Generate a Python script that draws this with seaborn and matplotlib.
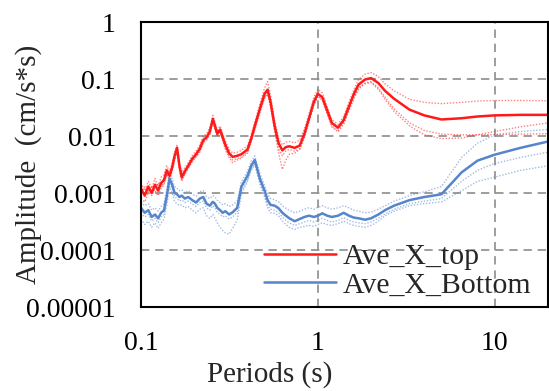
import numpy as np
import pandas as pd
import matplotlib
matplotlib.use("Agg")
import matplotlib.pyplot as plt
from matplotlib.ticker import LogLocator, NullFormatter, FixedLocator, FixedFormatter
import seaborn as sns

# Response spectra: period grid (s)
periods = [0.100, 0.105, 0.110, 0.115, 0.120, 0.125, 0.130, 0.135, 0.140, 0.145,
           0.150, 0.155, 0.160, 0.165, 0.170, 0.177, 0.185, 0.195, 0.205, 0.215,
           0.225, 0.235, 0.245, 0.255, 0.262, 0.270, 0.280, 0.290, 0.300, 0.315,
           0.330, 0.350, 0.370, 0.400, 0.420, 0.440, 0.470, 0.500, 0.520, 0.540,
           0.570, 0.600, 0.630, 0.660, 0.690, 0.740, 0.790, 0.840, 0.890, 0.950,
           1.000, 1.060, 1.130, 1.200, 1.300, 1.400, 1.500, 1.600, 1.700, 1.850,
           2.000, 2.200, 2.400, 2.700, 3.300, 4.000, 5.000, 6.500, 8.000, 10.00,
           14.00, 20.00]

# Top sensor: average and individual records
top_ave = [0.0012, 0.0009, 0.0013, 0.0010, 0.0014, 0.0011, 0.0015, 0.0017, 0.0025, 0.0020,
           0.0028, 0.0045, 0.0062, 0.0030, 0.0019, 0.0024, 0.0030, 0.0040, 0.0048, 0.0060,
           0.0085, 0.0095, 0.0120, 0.0200, 0.0150, 0.0110, 0.0130, 0.0095, 0.0070, 0.0050,
           0.0043, 0.0045, 0.0048, 0.0058, 0.0090, 0.0150, 0.0300, 0.0550, 0.0650, 0.0400,
           0.0150, 0.0075, 0.0056, 0.0064, 0.0066, 0.0062, 0.0068, 0.0110, 0.0200, 0.0400,
           0.0550, 0.0480, 0.0280, 0.0170, 0.0140, 0.0190, 0.0330, 0.0550, 0.0800, 0.0980,
           0.1040, 0.0850, 0.0620, 0.0450, 0.0290, 0.0230, 0.0195, 0.0205, 0.0220, 0.0230,
           0.0235, 0.0235]
top_rec1 = [0.0015, 0.0011, 0.0016, 0.0012, 0.0018, 0.0013, 0.0019, 0.0021, 0.0030, 0.0024,
            0.0033, 0.0052, 0.0070, 0.0035, 0.0023, 0.0028, 0.0034, 0.0046, 0.0055, 0.0070,
            0.0098, 0.0110, 0.0140, 0.0230, 0.0175, 0.0128, 0.0150, 0.0110, 0.0082, 0.0058,
            0.0050, 0.0052, 0.0056, 0.0068, 0.0105, 0.0175, 0.0360, 0.0700, 0.0900, 0.0520,
            0.0185, 0.0090, 0.0070, 0.0078, 0.0080, 0.0076, 0.0085, 0.0135, 0.0240, 0.0480,
            0.0660, 0.0570, 0.0330, 0.0195, 0.0160, 0.0220, 0.0390, 0.0650, 0.0980, 0.1220,
            0.1300, 0.1100, 0.0820, 0.0620, 0.0440, 0.0390, 0.0370, 0.0390, 0.0410, 0.0420,
            0.0420, 0.0415]
top_rec2 = [0.0010, 0.0013, 0.0011, 0.0009, 0.0012, 0.0015, 0.0013, 0.0015, 0.0021, 0.0018,
            0.0024, 0.0040, 0.0056, 0.0027, 0.0017, 0.0021, 0.0027, 0.0036, 0.0043, 0.0054,
            0.0076, 0.0085, 0.0105, 0.0180, 0.0135, 0.0098, 0.0115, 0.0085, 0.0062, 0.0044,
            0.0038, 0.0040, 0.0043, 0.0052, 0.0080, 0.0135, 0.0265, 0.0480, 0.0560, 0.0350,
            0.0130, 0.0060, 0.0045, 0.0055, 0.0058, 0.0054, 0.0060, 0.0098, 0.0180, 0.0360,
            0.0500, 0.0440, 0.0250, 0.0150, 0.0125, 0.0170, 0.0290, 0.0480, 0.0700, 0.0850,
            0.0900, 0.0700, 0.0480, 0.0300, 0.0170, 0.0125, 0.0108, 0.0105, 0.0105, 0.0106,
            0.0108, 0.0110]
top_rec3 = [0.0008, 0.0007, 0.0010, 0.0013, 0.0011, 0.0009, 0.0012, 0.0014, 0.0022, 0.0016,
            0.0025, 0.0038, 0.0055, 0.0026, 0.0016, 0.0022, 0.0028, 0.0035, 0.0044, 0.0052,
            0.0078, 0.0088, 0.0110, 0.0175, 0.0130, 0.0100, 0.0118, 0.0082, 0.0058, 0.0042,
            0.0034, 0.0038, 0.0041, 0.0050, 0.0078, 0.0128, 0.0255, 0.0460, 0.0540, 0.0330,
            0.0120, 0.0050, 0.0026, 0.0038, 0.0048, 0.0050, 0.0058, 0.0095, 0.0175, 0.0350,
            0.0480, 0.0420, 0.0240, 0.0145, 0.0118, 0.0160, 0.0280, 0.0460, 0.0670, 0.0820,
            0.0870, 0.0660, 0.0440, 0.0270, 0.0150, 0.0105, 0.0090, 0.0092, 0.0105, 0.0120,
            0.0145, 0.0170]

# Bottom sensor: average and individual records
bot_ave = [0.00055, 0.00045, 0.00050, 0.00038, 0.00042, 0.00036, 0.00045, 0.00050, 0.00090, 0.00180,
           0.00140, 0.00100, 0.00095, 0.00085, 0.00090, 0.00080, 0.00085, 0.00075, 0.00068, 0.00080,
           0.00085, 0.00065, 0.00060, 0.00070, 0.00065, 0.00055, 0.00050, 0.00045, 0.00048, 0.00042,
           0.00046, 0.00055, 0.00130, 0.00200, 0.00300, 0.00380, 0.00180, 0.00110, 0.00075, 0.00062,
           0.00060, 0.00054, 0.00045, 0.00040, 0.00036, 0.00032, 0.00035, 0.00038, 0.00040, 0.00038,
           0.00040, 0.00044, 0.00040, 0.00038, 0.00040, 0.00045, 0.00040, 0.00037, 0.00036, 0.00034,
           0.00036, 0.00042, 0.00050, 0.00060, 0.00075, 0.00085, 0.00095, 0.00230, 0.00370, 0.00470,
           0.00620, 0.00800]
bot_rec1 = [0.00070, 0.00060, 0.00065, 0.00050, 0.00055, 0.00048, 0.00058, 0.00065, 0.00120, 0.00220,
            0.00175, 0.00130, 0.00120, 0.00110, 0.00115, 0.00100, 0.00110, 0.00095, 0.00088, 0.00105,
            0.00110, 0.00085, 0.00080, 0.00090, 0.00085, 0.00075, 0.00068, 0.00062, 0.00065, 0.00058,
            0.00062, 0.00072, 0.00160, 0.00240, 0.00360, 0.00450, 0.00220, 0.00135, 0.00095, 0.00080,
            0.00076, 0.00070, 0.00060, 0.00054, 0.00050, 0.00045, 0.00048, 0.00052, 0.00055, 0.00052,
            0.00056, 0.00060, 0.00055, 0.00052, 0.00055, 0.00060, 0.00055, 0.00050, 0.00048, 0.00045,
            0.00046, 0.00052, 0.00060, 0.00072, 0.00090, 0.00105, 0.00130, 0.00420, 0.00750, 0.01050,
            0.01200, 0.01300]
bot_rec2 = [0.00045, 0.00038, 0.00042, 0.00032, 0.00036, 0.00030, 0.00038, 0.00042, 0.00075, 0.00150,
            0.00120, 0.00085, 0.00080, 0.00072, 0.00076, 0.00068, 0.00072, 0.00064, 0.00058, 0.00068,
            0.00072, 0.00055, 0.00050, 0.00060, 0.00055, 0.00046, 0.00042, 0.00038, 0.00040, 0.00035,
            0.00038, 0.00046, 0.00110, 0.00170, 0.00260, 0.00330, 0.00155, 0.00092, 0.00062, 0.00052,
            0.00050, 0.00045, 0.00038, 0.00033, 0.00030, 0.00027, 0.00029, 0.00031, 0.00033, 0.00031,
            0.00033, 0.00036, 0.00033, 0.00031, 0.00033, 0.00037, 0.00033, 0.00031, 0.00030, 0.00029,
            0.00031, 0.00036, 0.00043, 0.00052, 0.00065, 0.00072, 0.00080, 0.00160, 0.00250, 0.00330,
            0.00420, 0.00520]
bot_rec3 = [0.00035, 0.00028, 0.00032, 0.00025, 0.00030, 0.00024, 0.00030, 0.00035, 0.00060, 0.00130,
            0.00100, 0.00070, 0.00065, 0.00060, 0.00062, 0.00055, 0.00058, 0.00050, 0.00045, 0.00052,
            0.00055, 0.00040, 0.00036, 0.00042, 0.00036, 0.00030, 0.00025, 0.00022, 0.00020, 0.00019,
            0.00024, 0.00034, 0.00095, 0.00160, 0.00250, 0.00320, 0.00145, 0.00085, 0.00055, 0.00045,
            0.00044, 0.00040, 0.00032, 0.00028, 0.00025, 0.00023, 0.00025, 0.00026, 0.00027, 0.00026,
            0.00028, 0.00030, 0.00028, 0.00027, 0.00029, 0.00032, 0.00029, 0.00027, 0.00026, 0.00025,
            0.00027, 0.00032, 0.00040, 0.00048, 0.00060, 0.00065, 0.00070, 0.00110, 0.00160, 0.00190,
            0.00250, 0.00300]

series_names = ["Ave_X_top", "Ave_X_Bottom"]
series_colors = ["#FF1A1A", "#5585CC"]

x_ticks = [0.1, 1, 10]
x_tick_labels = ["0.1", "1", "10"]
y_ticks = [1e-5, 1e-4, 1e-3, 1e-2, 1e-1, 1]
y_tick_labels = ["0.00001", "0.0001", "0.001", "0.01", "0.1", "1"]

# Long-format tables for seaborn
ave = pd.DataFrame({
    "Period": periods * 2,
    "Amplitude": top_ave + bot_ave,
    "Series": [series_names[0]] * len(periods) + [series_names[1]] * len(periods),
})
recs = pd.DataFrame({
    "Period": periods * 6,
    "Amplitude": top_rec1 + top_rec2 + top_rec3 + bot_rec1 + bot_rec2 + bot_rec3,
    "Record": (["t1"] * len(periods) + ["t2"] * len(periods) + ["t3"] * len(periods)
               + ["b1"] * len(periods) + ["b2"] * len(periods) + ["b3"] * len(periods)),
})

sns.set_style("white")
plt.rcParams["font.family"] = ["Liberation Serif", "DejaVu Serif"]
plt.rcParams["mathtext.fontset"] = "stix"

fig = plt.figure(figsize=(5.49, 3.91), dpi=100)
ax = fig.add_axes([0.2568, 0.2148, 0.7412, 0.7289])

# individual records (dotted)
rec_palette = {"t1": series_colors[0], "t2": series_colors[0], "t3": series_colors[0],
               "b1": series_colors[1], "b2": series_colors[1], "b3": series_colors[1]}
sns.lineplot(data=recs, x="Period", y="Amplitude", hue="Record", units="Record",
             estimator=None, palette=rec_palette, linestyle=(0, (1, 1.2)),
             linewidth=1.0, alpha=0.55, legend=False, ax=ax, sort=False)

# averages (solid)
sns.lineplot(data=ave, x="Period", y="Amplitude", hue="Series", estimator=None,
             palette=dict(zip(series_names, series_colors)), linewidth=1.8,
             ax=ax, sort=False)

ax.set_xscale("log")
ax.set_yscale("log")
ax.set_xlim(0.1, 20)
ax.set_ylim(1e-5, 1)

ax.xaxis.set_major_locator(FixedLocator(x_ticks))
ax.xaxis.set_major_formatter(FixedFormatter(x_tick_labels))
ax.yaxis.set_major_locator(FixedLocator(y_ticks))
ax.yaxis.set_major_formatter(FixedFormatter(y_tick_labels))
ax.xaxis.set_minor_locator(LogLocator(base=10, subs=np.arange(2, 10), numticks=20))
ax.yaxis.set_minor_locator(LogLocator(base=10, subs=np.arange(2, 10), numticks=20))
ax.xaxis.set_minor_formatter(NullFormatter())
ax.yaxis.set_minor_formatter(NullFormatter())

ax.tick_params(axis="both", which="both", direction="in", colors="black",
               top=False, right=False, labelsize=20)
ax.tick_params(axis="both", which="major", length=7, width=1.2)
ax.tick_params(axis="both", which="minor", length=4.5, width=1.0)
ax.tick_params(axis="x", which="major", pad=17)
ax.tick_params(axis="y", which="major", pad=18)

ax.grid(True, which="major", color="#8c8c8c", linestyle=(0, (5, 3.5)), linewidth=1.2)
for side in ax.spines.values():
    side.set_color("black")
    side.set_linewidth(1.5)

ax.set_xlabel("Periods (s)", fontsize=21)
ax.set_ylabel("Amplitude  (cm/s*s)", fontsize=21)
ax.xaxis.set_label_coords(0.317, -0.19)
ax.yaxis.set_label_coords(-0.243, 0.5)

handles, labels = ax.get_legend_handles_labels()
ax.legend(handles, labels, loc="center left", bbox_to_anchor=(0.302, 0.127),
          frameon=False, fontsize=21.5, handlelength=2.4, handletextpad=0.25,
          labelspacing=0.05, borderpad=0, borderaxespad=0)

fig.savefig("out.png", dpi=100)
